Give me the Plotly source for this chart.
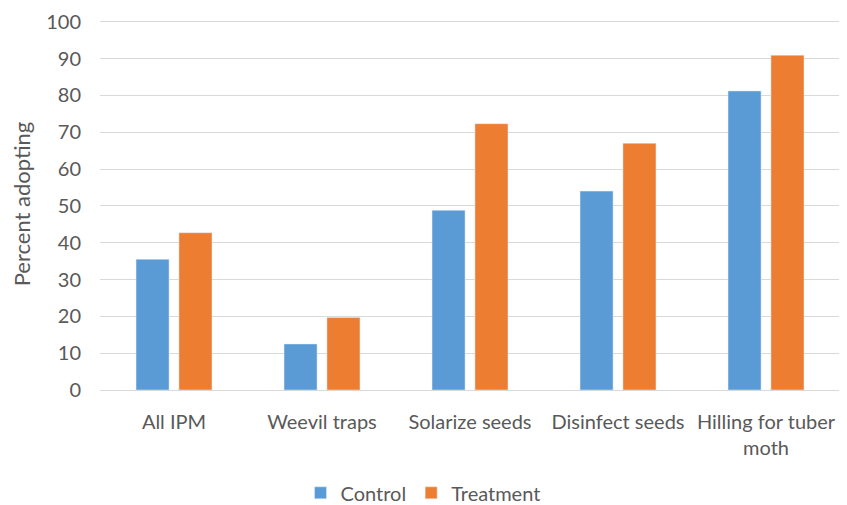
import plotly.graph_objects as go

categories = ["All IPM", "Weevil traps", "Solarize seeds", "Disinfect seeds", "Hilling for tuber<br>moth"]
control = [35.5, 12.5, 48.8, 54.0, 81.2]
treatment = [42.7, 19.7, 72.3, 67.0, 90.9]
y_ticks = list(range(0, 101, 10))

font_family = "Lato, 'Open Sans', sans-serif"
text_color = "#595959"

fig = go.Figure()
fig.add_trace(go.Bar(name="Control", x=categories, y=control, marker=dict(color="#5B9BD5")))
fig.add_trace(go.Bar(name="Treatment", x=categories, y=treatment, marker=dict(color="#ED7D31")))

fig.update_layout(
    width=847, height=505,
    margin=dict(l=92, r=15, t=10, b=123),
    paper_bgcolor="white", plot_bgcolor="white",
    barmode="group", bargap=0.42, bargroupgap=0.23,
    font=dict(family=font_family, color=text_color, size=20),
    legend=dict(orientation="h", xref="container", x=0.49, xanchor="center",
                yref="container", y=0.04, yanchor="middle",
                font=dict(size=20, color=text_color), itemwidth=30),
    showlegend=True,
)
fig.update_yaxes(range=[0, 101], tickvals=y_ticks, showgrid=True, gridcolor="#D9D9D9", gridwidth=1,
                 zeroline=True, zerolinecolor="#D9D9D9", zerolinewidth=1,
                 title=dict(text="Percent adopting", font=dict(size=22, color=text_color), standoff=10),
                 tickfont=dict(size=20, color=text_color), ticks="outside", ticklen=14,
                 tickcolor="rgba(0,0,0,0)", ticklabeloverflow="allow", automargin=False)
fig.update_xaxes(showline=False, tickfont=dict(size=20, color=text_color), ticks="outside",
                 ticklen=14, tickcolor="rgba(0,0,0,0)", automargin=False)

fig.write_html("out.html")
